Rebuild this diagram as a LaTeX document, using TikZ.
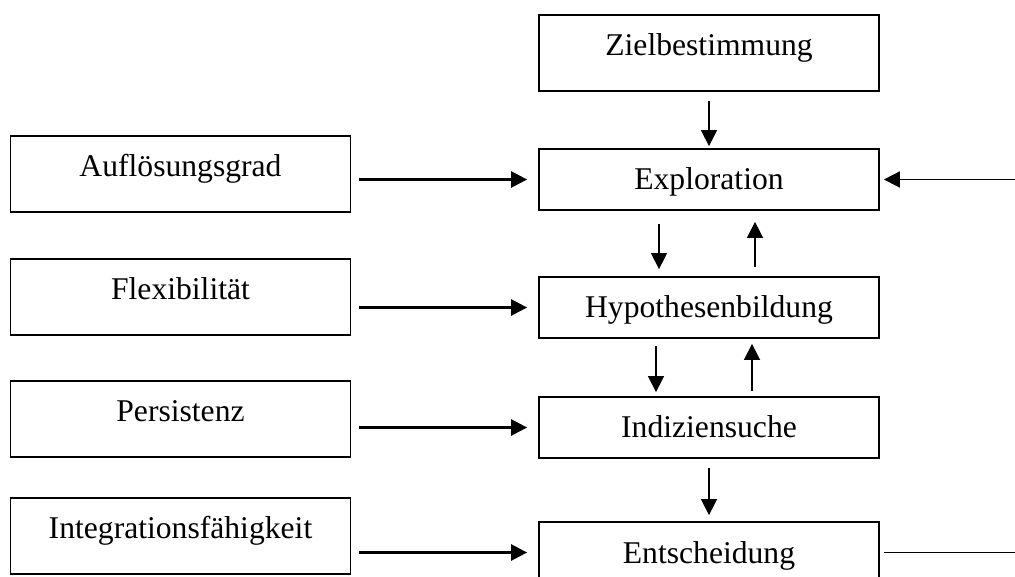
\documentclass[tikz,border=0pt]{standalone}
\usepackage{fontspec}
\setmainfont{Liberation Serif}
\usetikzlibrary{arrows.meta}

\begin{document}
\begin{tikzpicture}[
    kasten/.style={draw, line width=1pt, minimum width=6.8cm, minimum height=1.52cm,
        inner sep=0pt, text height=0.5cm, text depth=0.38cm,
        font=\fontsize{18pt}{21pt}\selectfont},
    phase/.style={kasten, minimum height=1.22cm, text height=0.46cm, text depth=0.04cm},
    pfeil/.style={-{Triangle[length=0.32cm, width=0.32cm]}, line width=0.8pt},
    zu/.style={pfeil, line width=1.4pt, shorten <=0.16cm, shorten >=0.22cm}
]
    \clip (0,0) rectangle (20.3,11.52);
    % Phasen (Mitte):
    \node[kasten] (ziel) at (14.18,10.46) {Zielbestimmung};
    \node[phase] (expl) at (14.18,7.93) {Exploration};
    \node[phase] (hyp) at (14.18,5.37) {Hypothesenbildung};
    \node[phase] (ind) at (14.18,2.97) {Indiziensuche};
    \node[phase] (ents) at (14.18,0.47) {Entscheidung};
    % Einflussgroessen (links):
    \node[kasten] (aufl) at (3.61,8.04) {Auflösungsgrad};
    \node[kasten] (flex) at (3.61,5.58) {Flexibilität};
    \node[kasten] (pers) at (3.61,3.14) {Persistenz};
    \node[kasten] (integ) at (3.61,0.80) {Integrationsfähigkeit};
    % Rueckkopplung (rechts, abgeschnitten):
    \coordinate (rueckin) at (20.3,7.93);
    \coordinate (rueckaus) at (20.3,0.47);

\draw[zu] (aufl.east |- expl.west) -- (expl.west); % Aufloesungsgrad
\draw[zu] (flex.east |- hyp.west) -- (hyp.west); % Flexibilitaet
\draw[zu] (pers.east |- ind.west) -- (ind.west); % Persistenz
\draw[zu] (integ.east |- ents.west) -- (ents.west); % Integration

\draw[pfeil, shorten <=0.18cm, shorten >=0.04cm] (ziel.south) -- (expl.north);
\draw[pfeil, shorten <=0.26cm, shorten >=0.14cm] ([xshift=-1.0cm]expl.south) -- ([xshift=-1.0cm]hyp.north);
\draw[pfeil, shorten <=0.18cm, shorten >=0.22cm] ([xshift=0.92cm]hyp.north) -- ([xshift=0.92cm]expl.south);
\draw[pfeil, shorten <=0.14cm, shorten >=0.08cm] ([xshift=-1.06cm]hyp.south) -- ([xshift=-1.06cm]ind.north);
\draw[pfeil, shorten <=0.1cm, shorten >=0.1cm] ([xshift=0.86cm]ind.north) -- ([xshift=0.86cm]hyp.south);
\draw[pfeil, shorten <=0.18cm, shorten >=0.12cm] (ind.south) -- (ents.north);

\draw[pfeil, line width=1pt, shorten >=0.08cm] (rueckin) -- (expl.east);
\draw[line width=1pt, shorten <=0.08cm] (ents.east) -- (rueckaus);
\end{tikzpicture}
\end{document}
